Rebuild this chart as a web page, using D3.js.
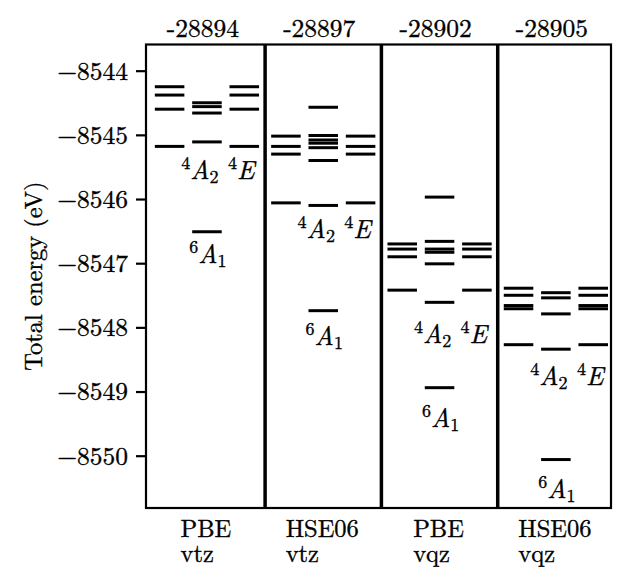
<!DOCTYPE html>
<html>
<head>
<meta charset="utf-8">
<script src="https://cdn.jsdelivr.net/npm/d3@7"></script>
</head>
<body style="margin:0; background:#fff">
<div id="chart"></div>
<script>
// panels (functional / basis) and the energy offset written on top
var methods = ["PBE", "HSE06", "PBE", "HSE06"];
var basis = ["vtz", "vtz", "vqz", "vqz"];
var offsets = ["-28894", "-28897", "-28902", "-28905"];

// levels (eV) per panel, left / middle / right column
var leftLevels = [
  [-8544.25, -8544.38, -8544.60, -8545.18],
  [-8545.02, -8545.18, -8545.30, -8546.06],
  [-8546.70, -8546.78, -8546.90, -8547.42],
  [-8547.39, -8547.50, -8547.66, -8547.71, -8548.27]
];
var midLevels = [
  [-8544.50, -8544.56, -8544.66, -8545.11, -8546.51],
  [-8544.57, -8545.01, -8545.08, -8545.13, -8545.20, -8545.40, -8546.10, -8547.74],
  [-8545.97, -8546.66, -8546.78, -8546.83, -8547.01, -8547.61, -8548.94],
  [-8547.46, -8547.54, -8547.79, -8548.34, -8550.06]
];
var rightLevels = [
  [-8544.25, -8544.38, -8544.60, -8545.18],
  [-8545.02, -8545.18, -8545.30, -8546.06],
  [-8546.70, -8546.78, -8546.90, -8547.42],
  [-8547.39, -8547.50, -8547.66, -8547.71, -8548.27]
];

// where the state labels sit (eV, baseline)
var quartetLabelE = [-8545.69, -8546.61, -8548.24, -8548.90];
var sextetLabelE = [-8547.00, -8548.27, -8549.55, -8550.66];

var yTicks = [-8550, -8549, -8548, -8547, -8546, -8545, -8544];

var FONT = "Latin Modern Roman";

var width = 632, height = 587,
  margin = { top: 44.5, right: 21, bottom: 79, left: 146 },
  colOffset = 0.321,
  halfLen = 0.127;

var svg = d3.select("#chart").append("svg")
  .attr("width", width)
  .attr("height", height)
  .attr("font-family", FONT);

// heavier glyphs, closer to the rasterised TeX text
function ink(sel) {
  sel.attr("fill", "#000").attr("stroke", "#000").attr("stroke-width", 0.35);
}

var x = d3.scaleLinear()
  .domain([-0.524, 3.474])
  .range([margin.left, width - margin.right]);

var y = d3.scaleLinear()
  .domain([-8550.815, -8543.592])
  .range([height - margin.bottom, margin.top]);

// y axis
var yAxis = d3.axisLeft(y)
  .tickValues(yTicks)
  .tickSize(10)
  .tickPadding(8)
  .tickFormat(d => "\u2212" + Math.abs(d));

svg.append("g")
  .attr("transform", "translate(" + margin.left + ",0)")
  .call(yAxis)
  .attr("font-family", FONT)
  .attr("font-size", 25.5)
  .call(g => g.select(".domain").remove())
  .call(g => g.selectAll(".tick line").attr("stroke", "#000").attr("stroke-width", 2.2))
  .call(g => g.selectAll(".tick text")
    .attr("font-family", FONT)
    .attr("dy", "0.33em")
    .call(ink));

svg.append("text")
  .attr("transform", "translate(33," + y(-8547.2) + ") rotate(-90)")
  .attr("text-anchor", "middle")
  .attr("dy", "0.35em")
  .attr("font-family", FONT)
  .attr("font-size", 24.5)
  .call(ink)
  .text("Total energy (eV)");

// levels
var cols = [
  { levels: leftLevels, dx: -colOffset },
  { levels: midLevels, dx: 0 },
  { levels: rightLevels, dx: colOffset }
];

var segs = [];
cols.forEach(function (c) {
  c.levels.forEach(function (panel, i) {
    panel.forEach(function (e) {
      segs.push({ i: i, dx: c.dx, e: e });
    });
  });
});

svg.append("g")
  .selectAll("line")
  .data(segs)
  .join("line")
  .attr("x1", d => x(d.i + d.dx - halfLen))
  .attr("x2", d => x(d.i + d.dx + halfLen))
  .attr("y1", d => y(d.e))
  .attr("y2", d => y(d.e))
  .attr("stroke", "#000")
  .attr("stroke-width", 3);

// state labels
function stateLabel(g, base, sup, sub) {
  var t = g.append("text").attr("font-family", FONT).attr("font-size", 26).call(ink);
  t.append("tspan").attr("font-size", 18).attr("dy", -10).text(sup);
  t.append("tspan").attr("font-style", "italic").attr("dy", 10).text(base);
  if (sub) t.append("tspan").attr("font-size", 18).attr("dy", 4).text(sub);
  return t;
}

methods.forEach(function (m, i) {
  var g = svg.append("g");
  stateLabel(g, "A", "4", "2")
    .attr("text-anchor", "middle")
    .attr("x", x(i) - 7)
    .attr("y", y(quartetLabelE[i]));
  stateLabel(g, "E", "4", null)
    .attr("text-anchor", "middle")
    .attr("x", x(i + colOffset) - 3)
    .attr("y", y(quartetLabelE[i]));
  stateLabel(g, "A", "6", "1")
    .attr("text-anchor", "middle")
    .attr("x", x(i) + 1)
    .attr("y", y(sextetLabelE[i]));
});

// frame and panel separators
svg.append("rect")
  .attr("x", margin.left)
  .attr("y", margin.top)
  .attr("width", width - margin.right - margin.left)
  .attr("height", height - margin.bottom - margin.top)
  .attr("fill", "none")
  .attr("stroke", "#000")
  .attr("stroke-width", 2.2);

svg.append("g")
  .selectAll("line")
  .data([0.5, 1.5, 2.5])
  .join("line")
  .attr("x1", d => x(d))
  .attr("x2", d => x(d))
  .attr("y1", margin.top)
  .attr("y2", height - margin.bottom)
  .attr("stroke", "#000")
  .attr("stroke-width", 3.5);

// offsets on top
svg.append("g")
  .selectAll("text")
  .data(offsets)
  .join("text")
  .attr("x", (d, i) => x(i) - 4)
  .attr("y", 36.5)
  .attr("text-anchor", "middle")
  .attr("font-family", FONT)
  .attr("font-size", 25.5)
  .call(ink)
  .text(d => d);

// method / basis below, lines left aligned, block centred
methods.forEach(function (m, i) {
  var top = svg.append("text").attr("y", 536.5).text(m);
  var bot = svg.append("text").attr("y", 561.5).text(basis[i]);
  var both = d3.selectAll([top.node(), bot.node()])
    .attr("font-family", FONT)
    .attr("font-size", 24.5)
    .call(ink);
  var w = Math.max(top.node().getComputedTextLength(), bot.node().getComputedTextLength());
  both.attr("x", x(i) - w / 2 - 1);
});
</script>
</body>
</html>
